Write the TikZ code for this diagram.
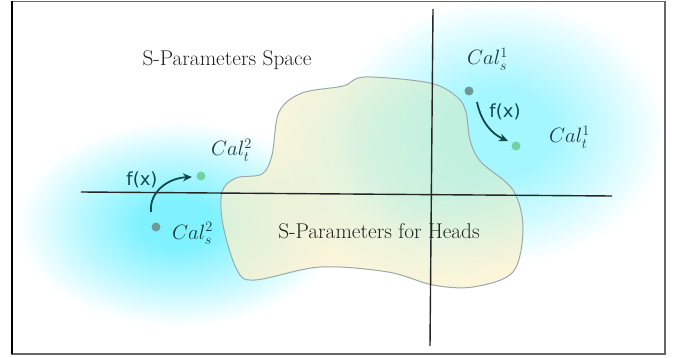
\documentclass[tikz,border=0pt]{standalone}
\usepackage{fontspec}
\newfontfamily\fxfont{DejaVu Sans}
\usetikzlibrary{arrows.meta}
\definecolor{glowc}{HTML}{80F2FF}
\definecolor{glowd}{HTML}{A4F6FF}
\definecolor{blobY}{HTML}{FCF1CC}
\definecolor{blobG}{HTML}{CDEFD4}
\definecolor{blobLine}{HTML}{9AAAAA}
\definecolor{teal}{HTML}{0E4A4A}
\definecolor{labc}{HTML}{1E3C3C}
\definecolor{dotS}{HTML}{6F9898}
\definecolor{dotT}{HTML}{72D2A2}
\pgfdeclareradialshading{glowA}{\pgfpoint{0bp}{0bp}}{color(0bp)=(glowc); color(6bp)=(glowc); color(16bp)=(glowc!50!white); color(25bp)=(white); color(50bp)=(white)}
\pgfdeclareradialshading{glowB}{\pgfpoint{0bp}{0bp}}{color(0bp)=(glowd); color(8bp)=(glowd); color(17bp)=(glowd!50!white); color(25bp)=(white); color(50bp)=(white)}
\pgfdeclareradialshading{blobshade}{\pgfpoint{0bp}{0bp}}{color(0bp)=(blobG); color(5bp)=(blobG); color(14bp)=(blobY); color(25bp)=(blobY); color(50bp)=(blobY)}
\begin{document}
\begin{tikzpicture}[x=1pt,y=-1pt,
  bigtext/.style={inner sep=0pt,font=\fontsize{21.3}{26}\selectfont,text=black!88},
  callab/.style={inner sep=0pt,anchor=base west,font=\fontsize{20.74}{25}\selectfont,text=labc},
  fxlab/.style={inner sep=0pt,font=\fxfont\fontsize{18}{22}\selectfont,text=teal},
  sdot/.style={circle,fill=dotS,inner sep=0pt,minimum size=9pt},
  tdot/.style={circle,fill=dotT,inner sep=0pt,minimum size=9pt},
  maparrow/.style={draw=teal,line width=1.8pt,-{Stealth[length=9pt,width=8pt]}},
  axis/.style={draw=black!85,line width=1.4pt}]
\useasboundingbox (0,0) rectangle (677,358);
% glows
\shade[shading=glowA] (178,224) ellipse [x radius=160, y radius=102];
\shade[shading=glowB] (500,132) ellipse [x radius=165, y radius=132];
% blob
\def\blobpath{plot[smooth cycle,tension=0.55] coordinates {(222,192) (236,178) (262,174) (272,155) (279,112) (302,93) (343,86) (365,77) (430,83) (457,97) (466,112) (470,140) (481,162) (513,190) (523,228) (513,272) (473,287) (433,285) (388,272) (320,267) (255,280) (237,270) (223,225)}}
\begin{scope}
\clip \blobpath;
\shade[shading=blobshade,opacity=0.72] (430,150) ellipse [x radius=300, y radius=250];
\end{scope}
\draw[blobLine,line width=1pt] \blobpath;
% frame
\draw[black!60,line width=1.5pt] (12,1.5) rectangle (665,354);
\draw[black,line width=1.5pt] (12,1.5) -- (12,354);
% axes
\coordinate (hl) at (81,192);
\coordinate (hr) at (612,196);
\coordinate (vt) at (433,9);
\coordinate (vb) at (430,346);
\draw[axis] (hl) -- (hr);
\draw[axis] (vt) -- (vb);
% texts
\node[bigtext] (space) at (227,60) {S-Parameters Space};
\node[bigtext] (heads) at (379,231) {S-Parameters for Heads};
\node[callab] (cs1) at (467,65) {$Cal_s^1$};
\node[callab] (ct1) at (549,143) {$Cal_t^1$};
\node[callab] (ct2) at (211,156) {$Cal_t^2$};
\node[callab] (cs2) at (172,239) {$Cal_s^2$};
% dots
\node[sdot] (ds1) at (469,91) {};
\node[tdot] (dt1) at (516,146) {};
\node[sdot] (ds2) at (156,227) {};
\node[tdot] (dt2) at (201,176) {};
% arrows
\coordinate (a2s) at (151,212);
\coordinate (a2t) at (192,177);
\coordinate (a1s) at (477,102);
\coordinate (a1t) at (508,141);
\draw[maparrow] (a2s) .. controls (149,192) and (168,178) .. (a2t);
\draw[maparrow] (a1s) .. controls (481,122) and (492,134) .. (a1t);
\node[fxlab] (fx2) at (142,180) {f(x)};
\node[fxlab] (fx1) at (505,112) {f(x)};
\end{tikzpicture}
\end{document}
